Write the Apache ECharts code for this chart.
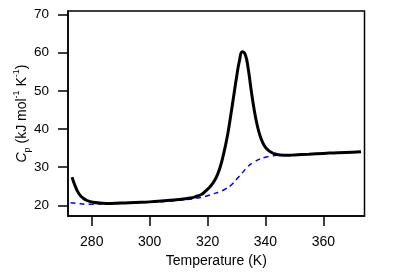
<!DOCTYPE html>
<html>
<head>
<meta charset="utf-8">
<script src="https://cdn.jsdelivr.net/npm/echarts@6/dist/echarts.min.js"></script>
<style>
html,body{margin:0;padding:0;background:#fff;}
#c{width:396px;height:273px;}
</style>
</head>
<body>
<div id="c"></div>
<script>
// Measured curve (black, solid)
const measT = [273.2,274,275,276,277,278,279,280,282,285,290,295,300,305,310,314,316,318,319,320,321,322,323,324,325,326,327,328,329,330,331,332,333,334,335,336,337,338,339,340,341,342,343,345,348,350,355,360,365,370,373];
const measCp = [27.4,25.6,23.8,22.6,21.9,21.4,21.1,20.9,20.65,20.5,20.6,20.75,20.9,21.2,21.5,21.9,22.3,22.9,23.5,24.2,25.0,26.0,27.3,29.2,31.8,35.0,38.8,43.5,48.5,53.5,57.8,60.2,59.5,56.0,50.5,45.5,41.5,38.5,36.5,35.2,34.4,33.9,33.5,33.2,33.1,33.2,33.4,33.6,33.8,33.9,34.0];
// Baseline (blue, dashed)
const baseT = [272.7,275,278,280,285,290,300,310,315,318,320,322,324,326,328,330,332,334,336,338,340,342,344,346];
const baseCp = [20.7,20.5,20.3,20.3,20.4,20.5,20.8,21.3,21.7,22.1,22.5,23.0,23.5,24.2,25.2,26.8,28.5,30.2,31.3,32.1,32.6,32.9,33.1,33.2];
// Tick labels
const xTicks = [280,300,320,340,360];
const yTicks = [20,30,40,50,60,70];

const font = 'Liberation Sans, Arial, Helvetica, sans-serif';
const chart = echarts.init(document.getElementById('c'), null, {renderer:'canvas'});
chart.setOption({
  animation:false,
  grid:{left:68,right:31.5,top:11,bottom:50,show:true,borderColor:'#000',borderWidth:1.5,containLabel:false},
  xAxis:{
    type:'value',min:271.8,max:374.2,
    name:'Temperature (K)',nameLocation:'middle',nameGap:38,nameMoveOverlap:false,
    nameTextStyle:{fontFamily:font,fontSize:14,color:'#000'},
    axisLine:{show:true,lineStyle:{color:'#000',width:1.5}},
    axisTick:{show:true,length:10,inside:false,lineStyle:{color:'#000',width:1.5},customValues:xTicks},
    axisLabel:{fontFamily:font,fontSize:14,color:'#000',margin:19,customValues:xTicks},
    splitLine:{show:false}
  },
  yAxis:{
    type:'value',min:17.2,max:70.9,
    name:'{i|C}{sub|p}{n| (kJ mol}{sup|-1}{n| K}{sup|-1}{n|)}',nameLocation:'middle',nameGap:36,nameMoveOverlap:false,
    nameTextStyle:{fontFamily:font,fontSize:14,color:'#000',
      rich:{
        i:{fontFamily:font,fontSize:14,fontStyle:'italic',color:'#000',lineHeight:20,verticalAlign:'middle'},
        n:{fontFamily:font,fontSize:14,color:'#000',lineHeight:20,verticalAlign:'middle'},
        sub:{fontFamily:font,fontSize:9,color:'#000',lineHeight:9,verticalAlign:'bottom'},
        sup:{fontFamily:font,fontSize:9,color:'#000',lineHeight:9,verticalAlign:'top'}
      }},
    axisLine:{show:true,lineStyle:{color:'#000',width:1.5}},
    axisTick:{show:true,length:10,inside:false,lineStyle:{color:'#000',width:1.5},customValues:yTicks},
    axisLabel:{fontFamily:font,fontSize:13.5,color:'#000',margin:19,customValues:yTicks},
    splitLine:{show:false}
  },
  series:[
    {type:'line',data:baseT.map((t,i)=>[t,baseCp[i]]),smooth:true,symbol:'none',
     lineStyle:{color:'#0000ff',width:1.5,type:[5,4]},z:2},
    {type:'line',data:measT.map((t,i)=>[t,measCp[i]]),smooth:true,symbol:'none',
     lineStyle:{color:'#000',width:3},z:3}
  ]
});
</script>
</body>
</html>
